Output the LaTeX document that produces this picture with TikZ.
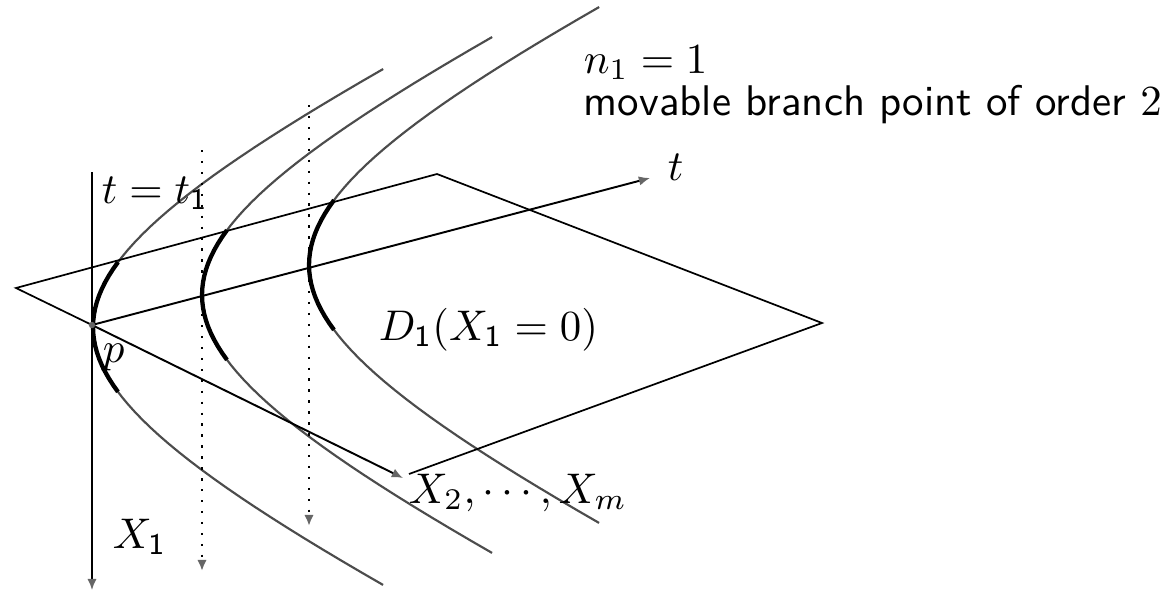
\documentclass[tikz,border=0pt]{standalone}
\usetikzlibrary{arrows.meta}

\begin{document}
\begin{tikzpicture}[
    x=0.0082cm, y=-0.0082cm,
    >={Latex[length=2.6pt,width=2.2pt,color=black!60]},
    edge/.style={line width=0.4pt, draw=black},
    axis/.style={->, line width=0.45pt, draw=black},
    guide/.style={->, dotted, line width=0.55pt, draw=black},
    branch/.style={line width=0.5pt, draw=black!70},
    branchpart/.style={line width=1pt, draw=black},
    label/.style={inner sep=0pt, anchor=base west}
]
\useasboundingbox (0,0) rectangle (1174,595);

% corners of the plane D_1
\coordinate (p) at (92,325);
\coordinate (left) at (16,288);
\coordinate (top) at (437,174);
\coordinate (right) at (822,323);
\coordinate (bottom) at (409,474);
\coordinate (tend) at (650,178);
\coordinate (xend) at (403,478);
\coordinate (x1top) at (92,172);
\coordinate (x1end) at (92,590);
\coordinate (guideAtop) at (202,150);
\coordinate (guideAend) at (202,571);
\coordinate (guideBtop) at (309,105);
\coordinate (guideBend) at (309,526);

% branch curves, thick near the vertex
\foreach \xv/\yv in {93/327, 202/295, 309/265} {
  \draw[branch, domain=-1.2045:1.2045, samples=61, variable=\u]
    plot ({\xv+355*(cosh(\u)-1)}, {\yv+170*sinh(\u)});
  \draw[branchpart, domain=-0.373:0.373, samples=21, variable=\u]
    plot ({\xv+355*(cosh(\u)-1)}, {\yv+170*sinh(\u)});
}

% plane
\draw[edge] (p) -- (left) -- (top) -- (right) -- (bottom);

% axes
\draw[axis] (p) -- (tend);
\draw[axis] (p) -- (xend);
\draw[axis] (x1top) -- (x1end);
\draw[guide] (guideAtop) -- (guideAend);
\draw[guide] (guideBtop) -- (guideBend);

\fill[black!60] (p) circle[radius=0.75pt];

% labels
\node[label] (n1) at (583,73) {$n_1=1$};
\node[label] (branchtext) at (583,115) {\textsf{movable branch point of order} $2$};
\node[label] (tlab) at (667,180) {$t$};
\node[label] (tt1) at (101,203) {$t=t_{\mathsf{1}}$};
\node[label] (plab) at (102,362) {$p$};
\node[label] (dlab) at (378,340) {$D_{\mathsf{1}}(X_{\mathsf{1}}=0)$};
\node[label] (xlab) at (408,503) {$X_2,\cdots,X_m$};
\node[label] (x1lab) at (112,548) {$X_{\mathsf{1}}$};

\end{tikzpicture}
\end{document}
